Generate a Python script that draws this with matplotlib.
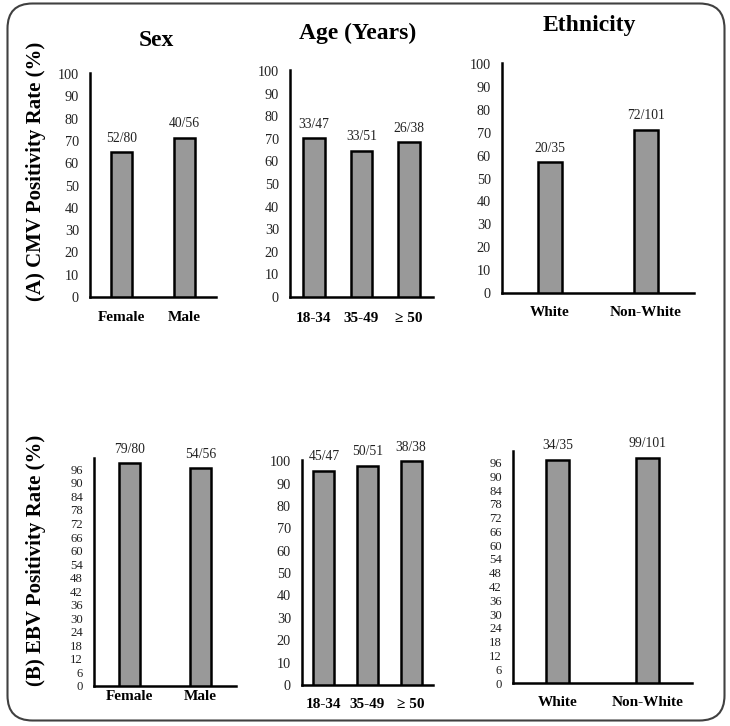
import matplotlib
matplotlib.use("Agg")
import matplotlib.pyplot as plt
from matplotlib.patches import FancyBboxPatch

plt.rcParams['font.family'] = ['Liberation Serif', 'DejaVu Serif']

# ---------------- data ----------------
sex_cats = ["Female", "Male"]
age_cats = ["18-34", "35-49", "\u2265 50"]
eth_cats = ["White", "Non-White"]

cmv_sex_pos = [52, 40]
cmv_sex_n = [80, 56]
cmv_age_pos = [33, 33, 26]
cmv_age_n = [47, 51, 38]
cmv_eth_pos = [20, 72]
cmv_eth_n = [35, 101]

ebv_sex_pos = [79, 54]
ebv_sex_n = [80, 56]
ebv_age_pos = [45, 50, 38]
ebv_age_n = [47, 51, 38]
ebv_eth_pos = [34, 99]
ebv_eth_n = [35, 101]

ticks_10 = list(range(0, 101, 10))
ticks_6 = list(range(0, 97, 6))

W, H = 730, 726
fig = plt.figure(figsize=(W / 100, H / 100), dpi=100)


def add_ax(left, right, bottom_y, top_y):
    return fig.add_axes([left / W, 1 - bottom_y / H, (right - left) / W, (bottom_y - top_y) / H])


def panel(ax, cats, pos, n, width, yticks, ytop, tick_fs, xpad):
    vals = [100.0 * p / t for p, t in zip(pos, n)]
    x = list(range(len(cats)))
    ax.bar(x, vals, width=width, color="#999999", edgecolor="black", linewidth=1.8, zorder=3)
    for xi, v, p, t in zip(x, vals, pos, n):
        ax.annotate(f"{p}/{t}", (xi, v), xytext=(0, 10), textcoords="offset points",
                    ha="center", va="center", fontsize=9.8, color="#222222")
    ax.set_xlim(-0.5, len(cats) - 0.5)
    ax.set_ylim(0, ytop)
    ax.set_yticks(yticks)
    ax.set_yticklabels([str(t) for t in yticks], fontsize=tick_fs, color="#222222")
    ax.set_xticks(x)
    ax.set_xticklabels(cats, fontsize=11, fontweight="bold")
    ax.tick_params(axis="both", length=0)
    ax.tick_params(axis="y", pad=8)
    ax.tick_params(axis="x", pad=xpad)
    for s in ["top", "right"]:
        ax.spines[s].set_visible(False)
    for s in ["left", "bottom"]:
        ax.spines[s].set_linewidth(1.8)
        ax.spines[s].set_color("black")
    ax.set_facecolor("none")


# Panel A (CMV)
ax1 = add_ax(90, 216, 297, 73)
panel(ax1, sex_cats, cmv_sex_pos, cmv_sex_n, 0.32, ticks_10, 100.5, 10.3, 10)
ax2 = add_ax(290, 433, 297, 70)
panel(ax2, age_cats, cmv_age_pos, cmv_age_n, 0.46, ticks_10, 100.5, 10.3, 11)
ax3 = add_ax(502, 694, 293, 63)
panel(ax3, eth_cats, cmv_eth_pos, cmv_eth_n, 0.26, ticks_10, 100.5, 10.3, 9)

# Panel B (EBV)
ax4 = add_ax(94, 236, 686, 458)
panel(ax4, sex_cats, ebv_sex_pos, ebv_sex_n, 0.30, ticks_6, 101, 9.2, 3)
ax5 = add_ax(302, 433, 685, 460)
panel(ax5, age_cats, ebv_age_pos, ebv_age_n, 0.48, ticks_10, 100.5, 10.3, 9)
ax6 = add_ax(513, 692, 683, 451)
panel(ax6, eth_cats, ebv_eth_pos, ebv_eth_n, 0.26, ticks_6, 101, 9.2, 9)

# Column titles
fig.text(156 / W, 1 - 40 / H, "Sex", ha="center", va="center", fontsize=17, fontweight="bold")
fig.text(358 / W, 1 - 33 / H, "Age (Years)", ha="center", va="center", fontsize=17, fontweight="bold")
fig.text(589 / W, 1 - 25 / H, "Ethnicity", ha="center", va="center", fontsize=17, fontweight="bold")

# Row labels
fig.text(36 / W, 1 - 171 / H, "(A) CMV Positivity Rate (%)", ha="center", va="center",
         rotation=90, fontsize=15, fontweight="bold")
fig.text(36 / W, 1 - 560 / H, "(B) EBV Positivity Rate (%)", ha="center", va="center",
         rotation=90, fontsize=15, fontweight="bold")

# Rounded border
border = FancyBboxPatch((0.075, 0.055), 7.17, 7.17,
                        boxstyle="round,pad=0,rounding_size=0.25",
                        transform=fig.dpi_scale_trans, fill=False,
                        edgecolor="#404040", linewidth=1.5)
fig.patches.append(border)

fig.savefig("out.png", dpi=100, facecolor="white")
